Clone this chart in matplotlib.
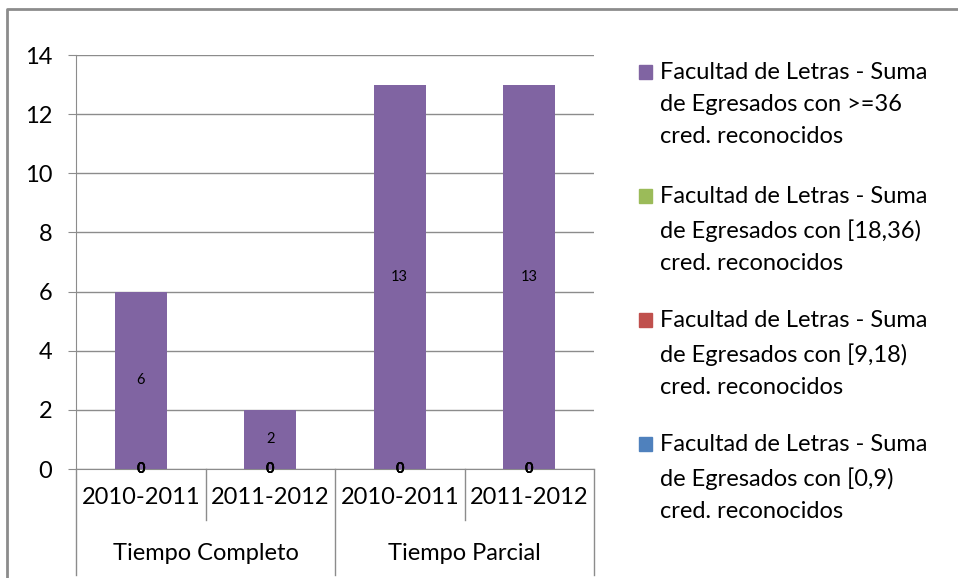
# Stacked bar chart - Facultad de Letras egresados

# Importing libraries
import matplotlib.pyplot as plt
from matplotlib.lines import Line2D
from matplotlib.patches import Rectangle
import matplotlib.transforms as mtransforms
import numpy as np

plt.rcParams["font.family"] = ["Lato", "DejaVu Sans"]

# Data
years = ["2010-2011", "2011-2012", "2010-2011", "2011-2012"]
groups = ["Tiempo Completo", "Tiempo Parcial"]
cred_0_9 = [0, 0, 0, 0]
cred_9_18 = [0, 0, 0, 0]
cred_18_36 = [0, 0, 0, 0]
cred_36 = [6, 2, 13, 13]

series_names = [
    "Facultad de Letras - Suma\nde Egresados con [0,9)\ncred. reconocidos",
    "Facultad de Letras - Suma\nde Egresados con [9,18)\ncred. reconocidos",
    "Facultad de Letras - Suma\nde Egresados con [18,36)\ncred. reconocidos",
    "Facultad de Letras - Suma\nde Egresados con >=36\ncred. reconocidos",
]
colors = ["#4F81BD", "#C0504D", "#9BBB59", "#8064A2"]

# Creating figure
fig = plt.figure(figsize=(9.58, 5.78), dpi=100)
ax = fig.add_axes([76 / 958, 1 - 469 / 578, (594 - 76) / 958, (469 - 55) / 578])

x = np.arange(len(years))
bottom = np.zeros(len(years))
for vals, col in zip([cred_0_9, cred_9_18, cred_18_36, cred_36], colors):
    bars = ax.bar(x, vals, bottom=bottom, width=0.4, color=col, zorder=3)
    txts = ax.bar_label(bars, labels=[str(v) for v in vals], label_type="center",
                        fontsize=10.5, color="black")
    for t in txts:
        t.set_zorder(6)
        t.set_clip_on(False)
        if t.get_text() == "0":
            t.set_fontweight("bold")
    bottom = bottom + np.array(vals)

# Axes styling
ax.set_xlim(-0.5, len(years) - 0.5)
ax.set_ylim(0, 14)
ax.set_yticks(range(0, 15, 2))
ax.yaxis.grid(True, color="#8c8c8c", linewidth=1)
ax.set_axisbelow(True)
for s in ["top", "right"]:
    ax.spines[s].set_visible(False)
ax.spines["left"].set_color("#8c8c8c")
ax.spines["bottom"].set_color("#8c8c8c")
ax.tick_params(axis="y", length=6, color="#8c8c8c", pad=11, labelsize=17)
ax.tick_params(axis="x", length=0, labelbottom=False)

# Two-level category labels
trans = mtransforms.blended_transform_factory(ax.transData, ax.transAxes)
for i, yr in enumerate(years):
    ax.text(i, -0.068, yr, transform=trans, ha="center", va="center", fontsize=17)
for g, name in enumerate(groups):
    ax.text(g * 2 + 0.5, -0.204, name, transform=trans, ha="center", va="center", fontsize=17)
for xb in [0.5, 2.5]:
    ax.plot([xb, xb], [0, -0.123], transform=trans, color="#8c8c8c", lw=1, clip_on=False)
for xb in [-0.5, 1.5, 3.5]:
    ax.plot([xb, xb], [0, -0.256], transform=trans, color="#8c8c8c", lw=1, clip_on=False)

# Legend (top series listed first)
W, H = 958, 578
for k, idx in enumerate([3, 2, 1, 0]):
    ytop = 72 + k * 124
    fig.patches.append(Rectangle((639 / W, 1 - (ytop + 7) / H), 13 / W, 14 / H,
                                 transform=fig.transFigure, color=colors[idx]))
    fig.text(660 / W, 1 - (ytop - 10) / H, series_names[idx], fontsize=17,
             va="top", ha="left", linespacing=1.65)

# Chart border
fig.lines.append(Line2D([7 / W, 7 / W, 1], [0, 1 - 9 / H, 1 - 9 / H],
                        transform=fig.transFigure, color="#8c8c8c", lw=2))

plt.savefig("out.png", dpi=100)
